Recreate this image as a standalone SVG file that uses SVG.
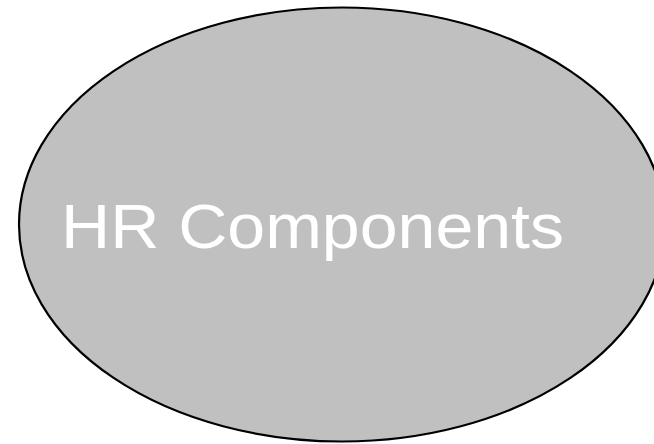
<svg xmlns="http://www.w3.org/2000/svg" width="654" height="444" viewBox="0 0 654 444">
<style>
.node{fill:#c0c0c0;stroke:#000;stroke-width:2.2}
.label{fill:#fff;font-family:"Liberation Sans",Arial,sans-serif;font-size:63px}
</style>
<rect width="654" height="444" fill="#fff"/>
<g id="hr-components">
<ellipse class="node" cx="342" cy="224.5" rx="323" ry="217"/>
<text class="label" x="61" y="248" textLength="503" lengthAdjust="spacingAndGlyphs">HR Components</text>
</g>
<g id="connectors"/>
</svg>
